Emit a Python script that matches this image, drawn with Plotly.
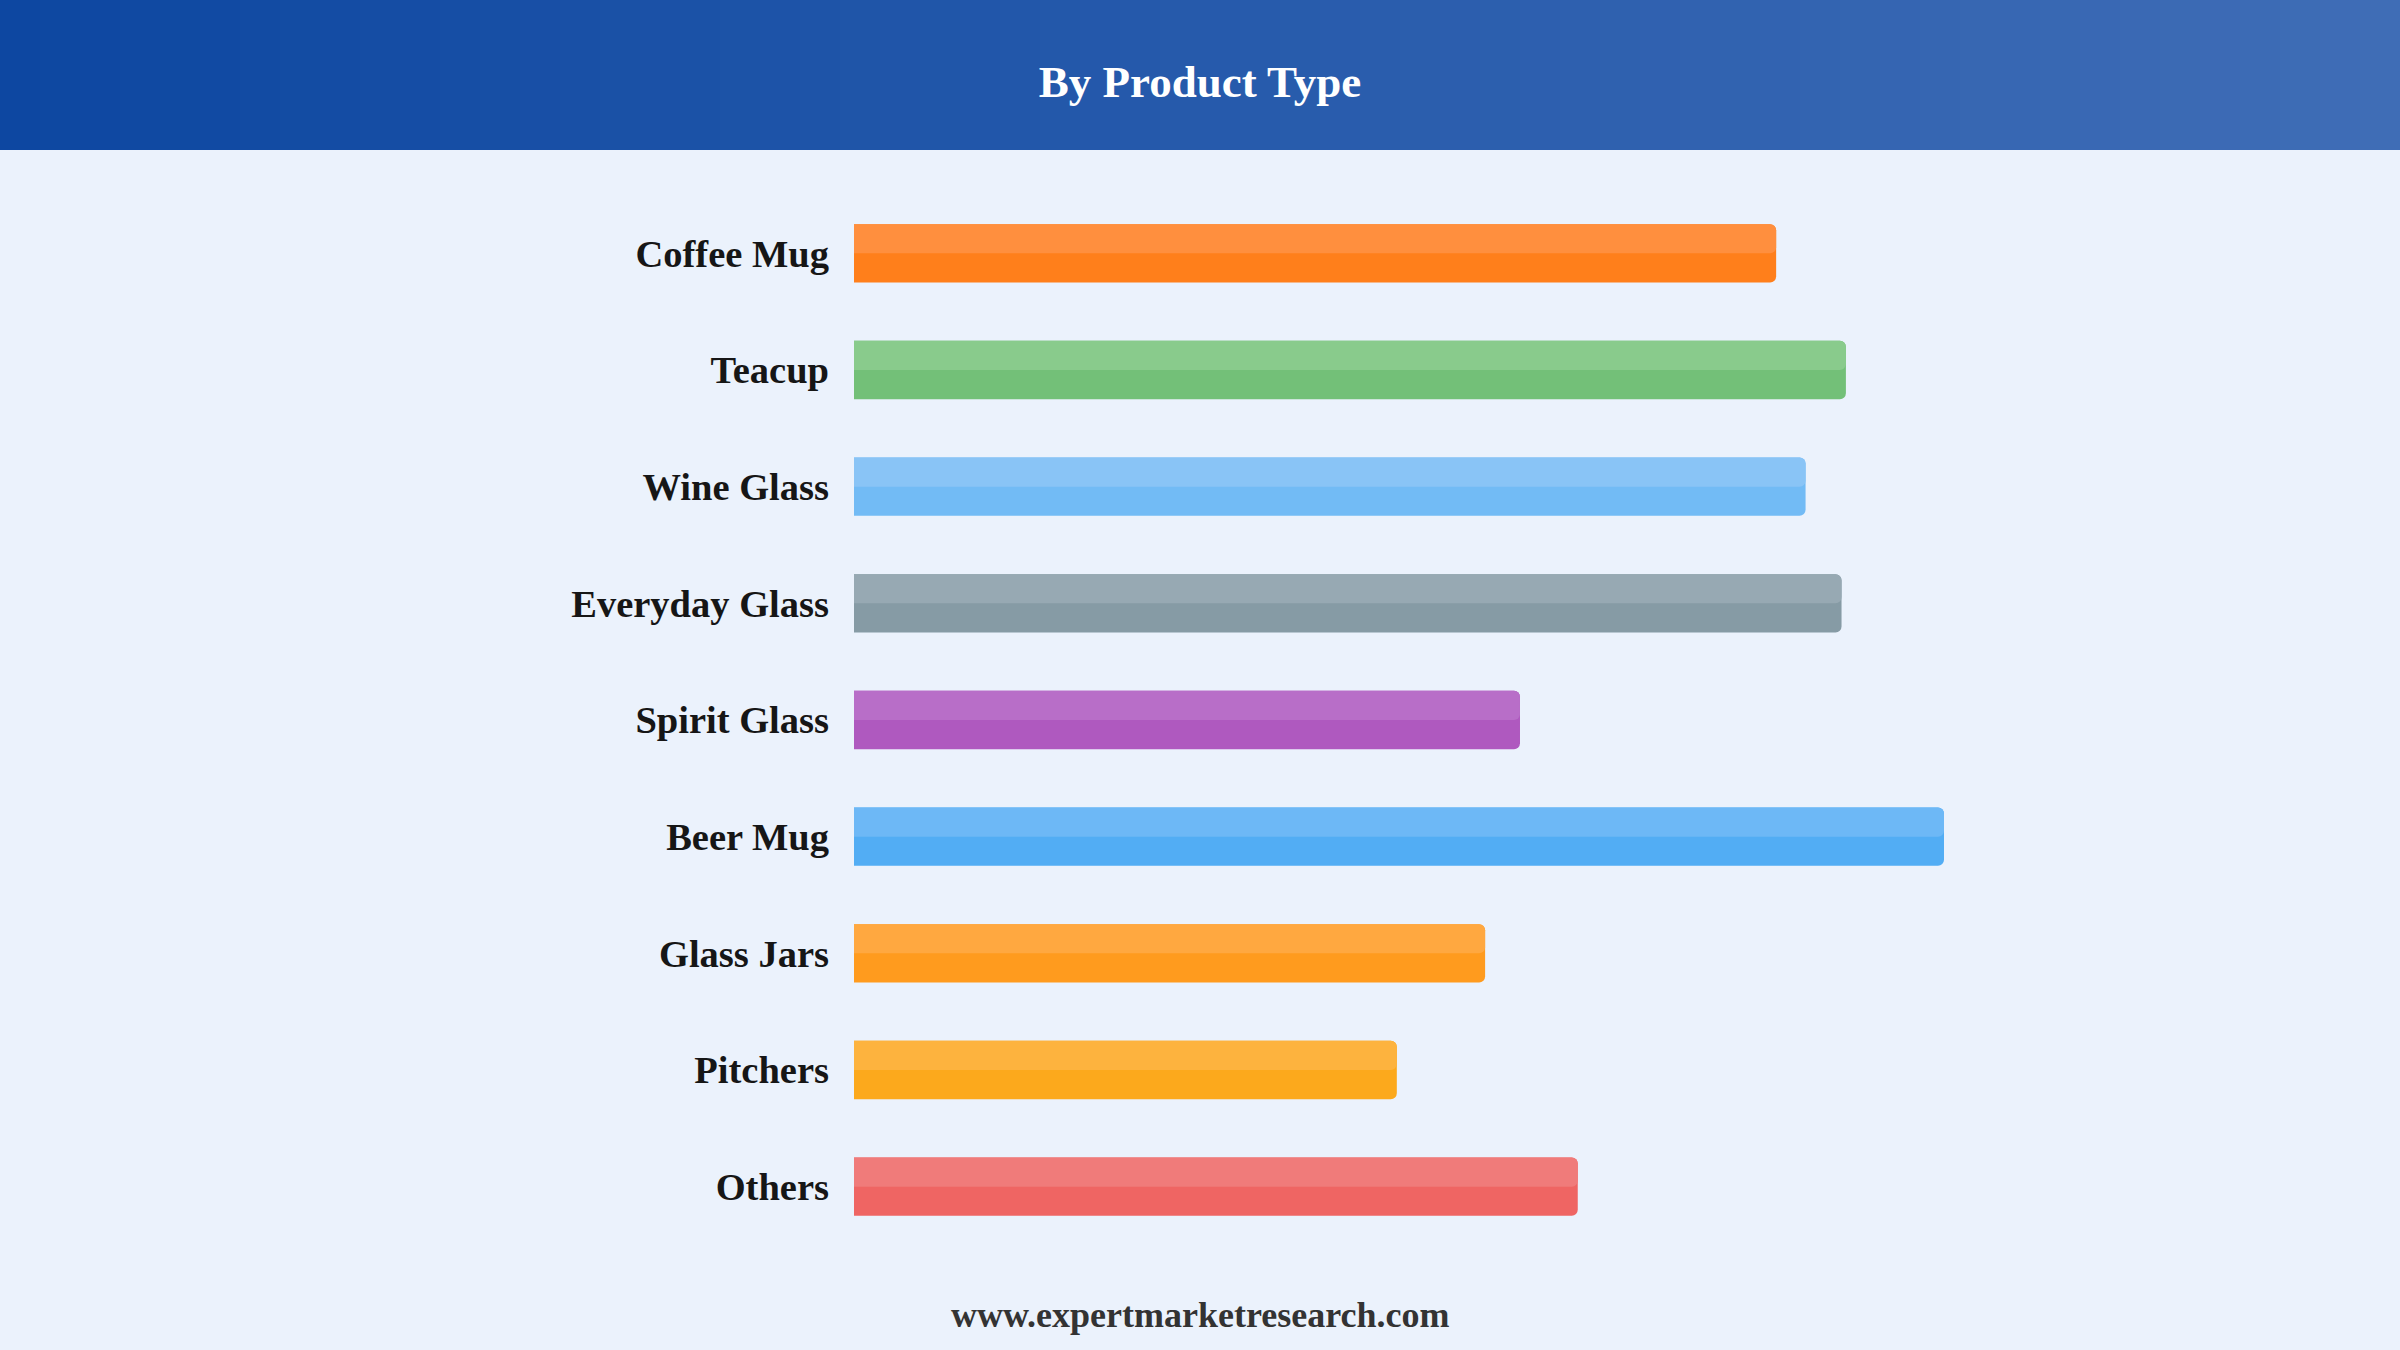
import plotly.graph_objects as go

# ---- data ----
categories = ["Coffee Mug", "Teacup", "Wine Glass", "Everyday Glass", "Spirit Glass",
              "Beer Mug", "Glass Jars", "Pitchers", "Others"]
values = [84.6, 91.0, 87.3, 90.6, 61.1, 100.0, 57.9, 49.8, 66.4]
dark_colors = ["#FF7F1B", "#73C078", "#72BBF5", "#869BA5", "#AF59BF",
               "#52ADF4", "#FF9B1E", "#FCA91C", "#EF6563"]
light_colors = ["#FF8F3E", "#89CB8C", "#89C4F6", "#97A9B3", "#B86EC8",
                "#6DB8F6", "#FFA840", "#FDB33E", "#F07B7A"]
title_text = "By Product Type"
footer_text = "www.expertmarketresearch.com"

W, H = 2400, 1350
L, R, T, B = 854, 456, 195, 105
PW, PH = W - L - R, H - T - B
FONT = "Liberation Serif, Times New Roman, serif"

def px_to_paper_x(px):
    return (px - L) / PW

def px_to_paper_y(py):
    return (H - B - py) / PH

fig = go.Figure()
fig.add_trace(go.Bar(
    y=categories, x=values, orientation="h", width=0.5,
    marker=dict(color=dark_colors, cornerradius=6, line=dict(width=0)),
    hoverinfo="x+y", showlegend=False,
))
fig.add_trace(go.Bar(
    y=categories, x=values, orientation="h", width=0.25, offset=-0.25,
    marker=dict(color=light_colors, cornerradius=6, line=dict(width=0)),
    hoverinfo="skip", showlegend=False,
))

# header gradient strips
shapes = []
c0 = (13, 71, 161)
c1 = (63, 109, 182)
n = 60
for i in range(n):
    t = i / (n - 1)
    col = tuple(round(c0[k] + (c1[k] - c0[k]) * t) for k in range(3))
    x0 = W * i / n
    x1 = W * (i + 1) / n + 1
    shapes.append(dict(
        type="rect", xref="paper", yref="paper", layer="below",
        x0=px_to_paper_x(x0), x1=px_to_paper_x(x1),
        y0=px_to_paper_y(150), y1=px_to_paper_y(0),
        fillcolor="rgb(%d,%d,%d)" % col, line=dict(width=0),
    ))

fig.update_layout(
    width=W, height=H,
    margin=dict(l=L, r=R, t=T, b=B, autoexpand=False),
    paper_bgcolor="#EBF2FC", plot_bgcolor="#EBF2FC",
    barmode="overlay",
    shapes=shapes,
    title=dict(text=title_text, x=0.5, xref="container", xanchor="center",
               y=1 - 81 / H, yref="container", yanchor="middle",
               font=dict(family=FONT, size=45, color="#FFFFFF", weight="bold")),
    xaxis=dict(range=[0, 100], visible=False, fixedrange=True),
    yaxis=dict(range=[8.5, -0.5], showgrid=False, zeroline=False, showline=False,
               ticks="", ticklabelstandoff=24,
               tickfont=dict(family=FONT, size=38.5, color="#161616", weight="bold")),
    annotations=[dict(
        text=footer_text, xref="paper", yref="paper",
        x=px_to_paper_x(1200), y=px_to_paper_y(1315),
        xanchor="center", yanchor="middle", showarrow=False,
        font=dict(family=FONT, size=36, color="#333333", weight="bold"),
    )],
)

fig.write_html(
    "out.html",
    config={"displayModeBar": False},
    post_script="document.body.style.margin='0';document.body.style.padding='0';"
                "document.body.style.background='#EBF2FC';"
                "document.documentElement.style.overflow='hidden';",
)
